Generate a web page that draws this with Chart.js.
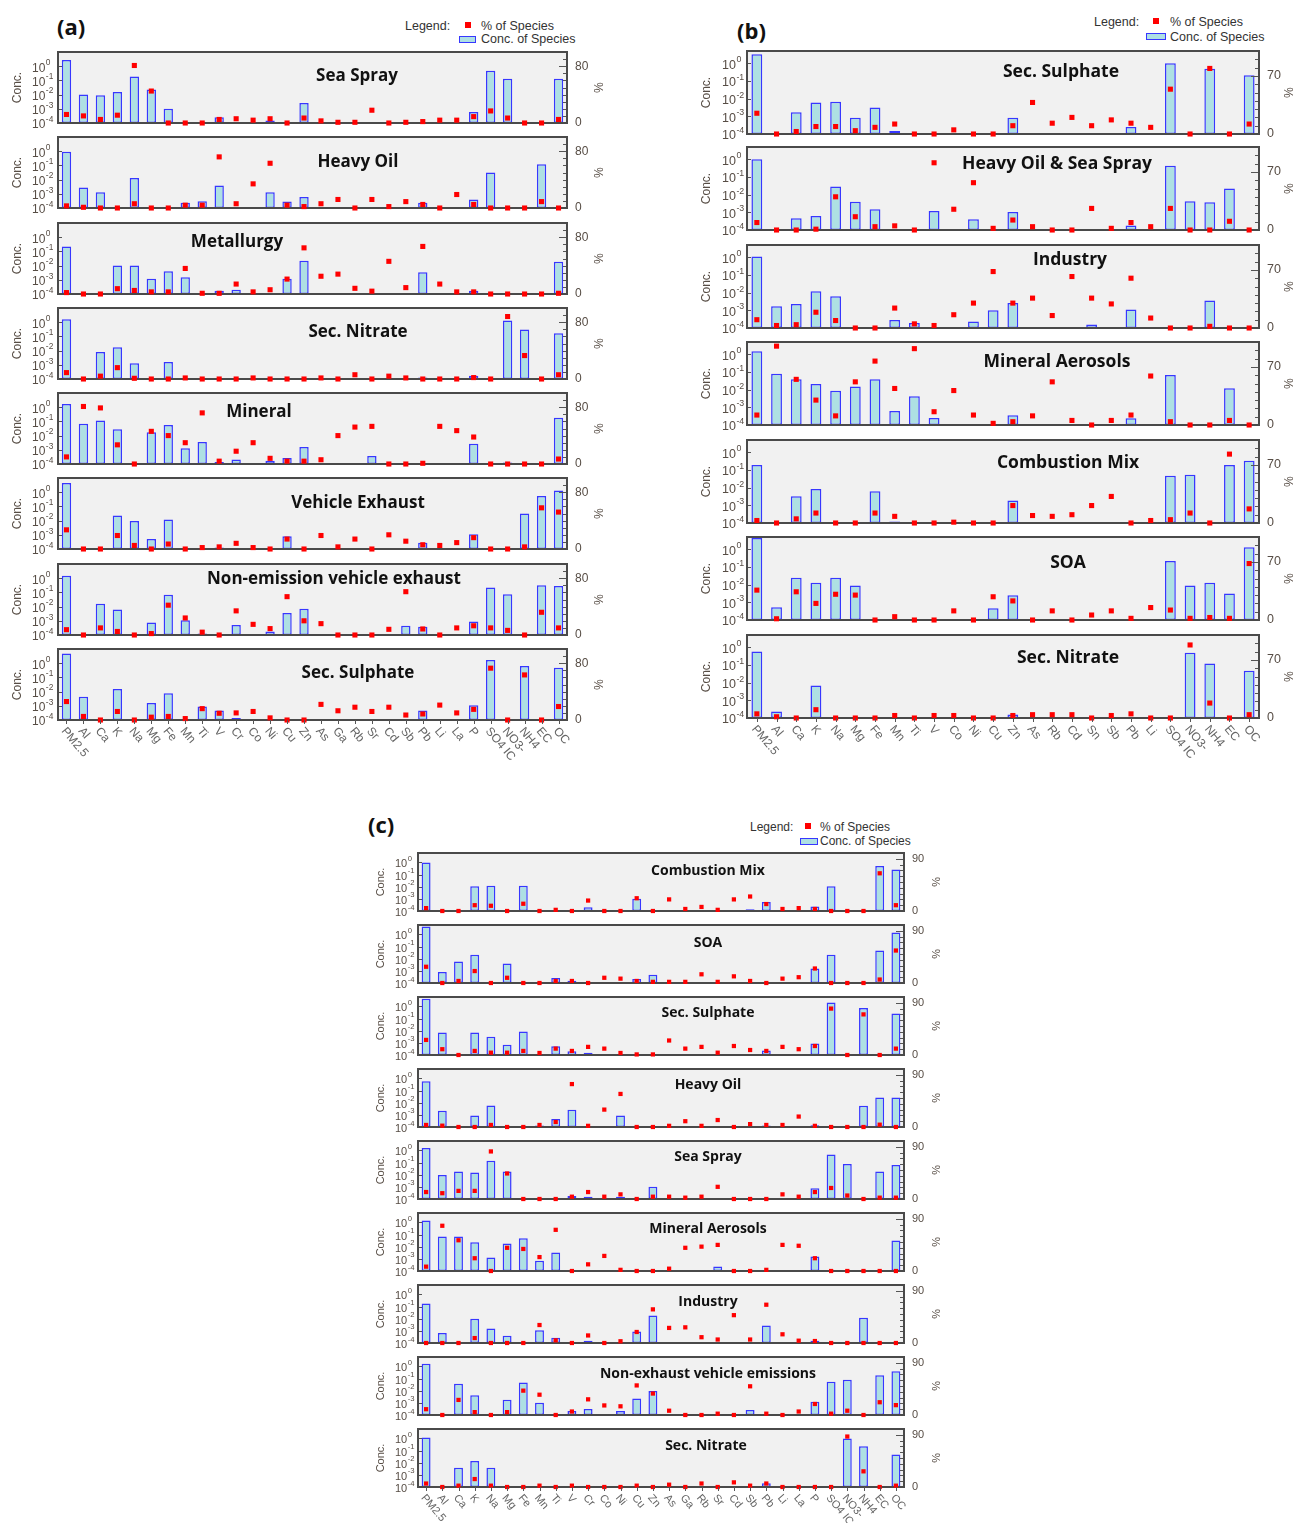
<!DOCTYPE html>
<html>
<head>
<meta charset="utf-8">
<script src="https://cdn.jsdelivr.net/npm/chart.js@4.4.1/dist/chart.umd.min.js"></script>
<style>
  html, body { margin: 0; padding: 0; overflow: hidden; background: #fff; }
  body { width: 1296px; height: 1523px; position: relative; font-family: "Liberation Sans", Arial, sans-serif; }
  canvas { position: absolute; }
  .tag { position: absolute; font-family: "Open Sans", sans-serif; font-weight: bold; font-size: 22px; line-height: 22px; color: #111; }
  .lg { position: absolute; font-size: 12.5px; line-height: 14px; color: #333; white-space: nowrap; }
  .lg-dot { position: absolute; width: 6px; height: 6px; background: #ff0000; }
  .lg-box { position: absolute; box-sizing: border-box; background: #aee0e3; border: 1.5px solid #3737ff; }
</style>
</head>
<body>

<div class="tag" style="left:57px; top:15px;">(a)</div>
<div class="lg" style="left:405px; top:19px;">Legend:</div>
<div class="lg-dot" style="left:465px; top:22px;"></div>
<div class="lg" style="left:481px; top:19px;">% of Species</div>
<div class="lg-box" style="left:459px; top:36px; width:17px; height:7px;"></div>
<div class="lg" style="left:481px; top:32px;">Conc. of Species</div>

<div class="tag" style="left:737px; top:19px;">(b)</div>
<div class="lg" style="left:1094px; top:15px;">Legend:</div>
<div class="lg-dot" style="left:1153px; top:18px;"></div>
<div class="lg" style="left:1170px; top:15px;">% of Species</div>
<div class="lg-box" style="left:1146px; top:33px; width:20px; height:7px;"></div>
<div class="lg" style="left:1170px; top:30px;">Conc. of Species</div>

<div class="tag" style="left:368px; top:813px;">(c)</div>
<div class="lg" style="left:750px; top:820px; font-size:12px;">Legend:</div>
<div class="lg-dot" style="left:805px; top:823px;"></div>
<div class="lg" style="left:820px; top:820px; font-size:12px;">% of Species</div>
<div class="lg-box" style="left:800px; top:838px; width:18px; height:7px;"></div>
<div class="lg" style="left:820px; top:834px; font-size:12px;">Conc. of Species</div>

<script>
// species on the x axis
const speciesA = ['PM2.5', 'Al', 'Ca', 'K', 'Na', 'Mg', 'Fe', 'Mn', 'Ti', 'V', 'Cr', 'Co', 'Ni', 'Cu', 'Zn',
  'As', 'Ga', 'Rb', 'Sr', 'Cd', 'Sb', 'Pb', 'Li', 'La', 'P', 'SO4 IC', 'NO3-', 'NH4', 'EC', 'OC'];
const speciesB = ['PM2.5', 'Al', 'Ca', 'K', 'Na', 'Mg', 'Fe', 'Mn', 'Ti', 'V', 'Co', 'Ni', 'Cu', 'Zn',
  'As', 'Rb', 'Cd', 'Sn', 'Sb', 'Pb', 'Li', 'SO4 IC', 'NO3-', 'NH4', 'EC', 'OC'];
const speciesC = ['PM2.5', 'Al', 'Ca', 'K', 'Na', 'Mg', 'Fe', 'Mn', 'Ti', 'V', 'Cr', 'Co', 'Ni', 'Cu', 'Zn',
  'As', 'Ga', 'Rb', 'Sr', 'Cd', 'Sb', 'Pb', 'Li', 'La', 'P', 'SO4 IC', 'NO3-', 'NH4', 'EC', 'OC'];

// left axis ticks (conc.) and right axis step (%)
const concTicks = [1e-4, 1e-3, 1e-2, 1e-1, 1];
const pctStep = 10;

// ---- panel (a) ----
const aSeaSprayConc = [2.7, 0.01, 0.009, 0.015, 0.19, 0.023, 0.001, null, null, 2.5e-4,
  null, null, 1.5e-4, null, 0.0026, null, null, null, 1.2e-4, null,
  null, null, null, null, 6e-4, 0.48, 0.13, null, null, 0.13];
const aSeaSprayPct = [12, 10, 5, 11, 81, 45, 0, 0, 0, 5,
  6, 4, 6, 0, 7, 3, 1, 1, 18, 0,
  1, 2, 4, 4, 9, 17, 7, 0, 0, 5];

const aHeavyOilConc = [0.9, 0.0028, 0.0013, null, 0.013, null, null, 2.3e-4, 3e-4, 0.0038,
  null, null, 0.0013, 2.9e-4, 6e-4, null, null, null, null, null,
  null, 2.3e-4, null, null, 4e-4, 0.032, null, null, 0.12, null];
const aHeavyOilPct = [3, 1, 0, 0, 6, 0, 0, 4, 4, 72,
  6, 34, 63, 4, 2, 6, 12, 0, 12, 2,
  9, 5, 0, 19, 5, 0, 0, 0, 9, 0];

const aMetallurgyConc = [0.22, null, null, 0.01, 0.01, 0.0012, 0.004, 0.0015, null, 1.7e-4,
  2e-4, null, 1.2e-4, 0.0012, 0.022, null, null, null, null, null,
  null, 0.0034, null, null, 1.7e-4, null, null, null, null, 0.019];
const aMetallurgyPct = [2, 0, 0, 7.5, 5, 3, 3, 36, 1, 1,
  14, 3, 6, 21, 65, 25, 28, 8, 4, 46,
  9, 67, 14, 3, 3, 0, 0, 0, 0, 1];

const aSecNitrateConc = [1.6, null, 0.008, 0.017, 0.0013, null, 0.0016, null, null, null,
  null, null, null, null, null, null, null, null, null, null,
  null, 1.3e-4, null, null, 1.7e-4, null, 1.3, 0.3, null, 0.17];
const aSecNitratePct = [9, 0, 4, 16, 1, 0, 0, 1.5, 0, 0,
  0, 1.5, 0, 0, 0, 1.5, 0, 6, 0, 4,
  1.5, 0, 0, 0, 2, 0, 88, 33, 0, 6];

const aMineralConc = [1.7, 0.069, 0.117, 0.028, null, 0.017, 0.056, 0.0013, 0.0035, 1.4e-4,
  2.1e-4, null, 1.7e-4, 2.6e-4, 0.0016, null, null, null, 3.7e-4, null,
  null, null, null, null, 0.0027, null, 1.3e-4, null, null, 0.18];
const aMineralPct = [10, 81, 79, 27, 0, 46, 40, 30, 72, 4,
  18, 30, 8, 4, 4, 6, 40, 52, 53, 0,
  0, 1, 53, 47, 38, 0, 0, 0, 0, 7];

const aVehicleConc = [4.5, null, null, 0.023, 0.0095, 5e-4, 0.012, null, 1.1e-4, 1.3e-4,
  1.05e-4, null, null, 8e-4, null, null, null, null, null, null,
  null, 2.8e-4, null, null, 0.0011, null, null, 0.032, 0.53, 1.3];
const aVehiclePct = [27, 0, 0, 19, 5, 0, 7, 0, 2, 3,
  8, 2, 0, 14, 0, 19, 3, 14, 0, 20,
  11, 6, 5, 9, 16, 0, 0, 3, 58, 52];

const aNonEmissionConc = [1.5, null, 0.016, 0.0063, null, 7.5e-4, 0.068, 0.0011, 1.3e-4, null,
  5e-4, null, 1.8e-4, 0.0036, 0.0072, null, null, null, null, null,
  4.5e-4, 3.8e-4, null, null, 9e-4, 0.22, 0.074, null, 0.32, 0.28];
const aNonEmissionPct = [7.5, 0, 10, 5, 0, 2, 42, 24, 4, 0,
  34, 15, 9, 54, 20, 16, 0, 0, 0, 8,
  61, 8.5, 0, 10, 13, 10, 6.5, 0, 32, 10];

const aSecSulphateConc = [4.8, 0.0044, null, 0.015, null, 0.0016, 0.0077, null, 9e-4, 4.6e-4,
  1.4e-4, null, null, null, null, null, null, null, null, null,
  null, 4.6e-4, null, null, 0.0011, 1.7, null, 0.63, null, 0.48];
const aSecSulphatePct = [26, 5, 0, 12, 0, 4, 5, 2, 16, 9.5,
  10, 12, 3, 0, 0, 22, 13, 18, 12, 18,
  7, 8.5, 21, 10, 15, 73, 0, 63.5, 0, 19];

// ---- panel (b) ----
const bSecSulphateConc = [3.3, null, 0.0017, 0.006, 0.0068, 8.3e-4, 0.0032, 1.5e-4, null, null,
  null, null, null, 8.3e-4, null, null, null, null, null, 2.5e-4,
  null, 1.0, null, 0.5, null, 0.21];
const bSecSulphatePct = [25, 0, 3, 9, 9, 4, 8, 12, 0, 0,
  5, 0, 0, 10, 38, 13, 20, 10, 17, 13,
  8, 54, 0, 79, 0, 12];

const bHeavyOilSeaConc = [1.0, null, 4.7e-4, 6.3e-4, 0.029, 0.004, 0.0015, null, null, 0.0012,
  null, 4.1e-4, null, 0.00105, null, null, null, 1.1e-4, null, 1.8e-4,
  null, 0.43, 0.0042, 0.0037, 0.022, null];
const bHeavyOilSeaPct = [9, 0, 0, 1, 40, 16, 4, 5, 0, 81,
  25, 57, 2, 12, 4, 0, 0, 26, 2, 9,
  4, 26, 0, 0, 10.5, 0];

const bIndustryConc = [1.1, 0.0017, 0.0023, 0.012, 0.0063, null, null, 2.8e-4, 1.9e-4, null,
  null, 2.3e-4, 0.001, 0.0026, null, null, null, 1.6e-4, null, 0.0011,
  null, null, null, 0.0036, null, null];
const bIndustryPct = [10, 3, 4, 19, 9, 0, 0, 24, 5, 3,
  16, 30, 68, 30, 36, 15, 62, 36, 29, 60,
  12, 0, 0, 2, 0, 0];

const bMineralConc = [1.5, 0.079, 0.039, 0.021, 0.0087, 0.015, 0.039, 6.3e-4, 0.0042, 2.5e-4,
  null, 1.1e-4, null, 3.6e-4, null, null, null, null, null, 2.4e-4,
  null, 0.068, null, null, 0.012, null];
const bMineralPct = [12, 95, 55, 30, 11, 52, 77, 44, 92, 16,
  41.5, 12, 2, 4, 11, 52, 5.5, 0, 5.5, 12,
  59, 4, 0, 0, 5.5, 0];

const bCombustionConc = [0.19, null, 0.0033, 0.0083, null, null, 0.0063, 1.2e-4, null, null,
  null, null, null, 0.0019, null, null, null, null, null, null,
  null, 0.047, 0.054, null, 0.19, 0.33];
const bCombustionPct = [3, 0, 5, 12, 0, 0, 12, 8, 0, 0,
  1, 0, 0, 21, 9, 8, 10, 21, 32, 0,
  3, 4, 12, 0, 83, 17];

const bSOAConc = [4.4, 5.3e-4, 0.025, 0.013, 0.025, 0.009, null, null, null, null,
  null, null, 4.7e-4, 0.0025, null, null, null, null, null, null,
  null, 0.22, 0.009, 0.013, 0.0032, 1.3];
const bSOAPct = [36, 1.5, 34, 20, 31, 30, 0, 4, 0, 0,
  11, 0, 28, 23, 0, 11, 0, 6, 11, 2,
  15, 12, 2, 3, 2, 68];

const bSecNitrateConc = [0.59, 2.3e-4, null, 0.007, null, null, null, null, null, null,
  null, null, null, 1.6e-4, null, null, null, null, null, null,
  null, null, 0.49, 0.12, null, 0.047];
const bSecNitratePct = [5, 1.5, 0, 10, 0, 0, 0, 3, 0, 3,
  3, 0, 0, 3, 4, 4, 4, 0, 3, 5,
  0, 0, 88, 18, 0, 4];

// ---- panel (c) ----
const cCombustionConc = [1.0, null, null, 0.011, 0.012, null, 0.012, null, 1.2e-4, null,
  2e-4, null, null, 0.001, null, null, null, null, null, null,
  1.4e-4, 5.5e-4, null, null, 2.4e-4, 0.011, null, null, 0.5, 0.26];
const cCombustionPct = [5, 0, 0, 10, 9, 0, 12.5, 0, 2, 0,
  18, 0, 0, 22, 0, 20, 3.5, 7, 2, 20,
  25, 12, 3.5, 5, 3.5, 0, 0, 0, 65, 10];

const cSOAConc = [4.5, 8e-4, 0.006, 0.021, null, 0.0041, null, null, 2.6e-4, 1.5e-4,
  null, null, 1.1e-4, 2.1e-4, 4.8e-4, null, null, null, null, null,
  null, null, null, null, 0.0016, 0.021, null, null, 0.048, 1.45];
const cSOAPct = [28, 0, 3.5, 20.6, 0, 9, 0, 0, 3.5, 3.5,
  0, 9, 7.5, 3.5, 2, 2, 2, 15, 2, 11.5,
  3.5, 0, 7.5, 10, 25, 0, 0, 0, 6, 56];

const cSecSulphateConc = [4.4, 0.007, null, 0.007, 0.0032, 7e-4, 0.0085, null, 5.3e-4, 2e-4,
  1.5e-4, null, null, null, null, null, null, null, null, null,
  null, 2.4e-4, null, null, 9e-4, 2.1, null, 0.73, null, 0.26];
const cSecSulphatePct = [26, 10, 0, 7, 4, 4, 7, 3.5, 11, 7,
  14, 11, 3.5, 1, 1, 25, 11, 14, 4, 15.5,
  8.6, 7, 14, 10, 15.5, 80, 0, 70, 0, 11];

const cHeavyOilConc = [0.6, 0.0022, null, 9e-4, 0.006, null, null, 1.3e-4, 4.6e-4, 0.0026,
  null, null, 9e-4, null, null, null, null, null, null, null,
  null, 1.3e-4, null, null, 1.4e-4, null, null, 0.0056, 0.027, 0.027];
const cHeavyOilPct = [3.5, 2.3, 0, 0, 3.5, 0, 0, 3.5, 8.6, 74,
  2, 30, 57, 0, 0, 2, 10, 2, 12, 0,
  5, 3.5, 3.5, 18, 2, 0, 0, 0, 4, 0];

const cSeaSprayConc = [1.6, 0.0094, 0.018, 0.015, 0.14, 0.018, null, null, null, 1.8e-4,
  1.5e-4, null, 1.5e-4, null, 0.001, null, null, null, 1.2e-4, null,
  null, null, null, null, 7.6e-4, 0.47, 0.076, null, 0.018, 0.063];
const cSeaSprayPct = [12, 10, 14, 14, 82, 44, 0, 0, 0, 4,
  12, 4, 8, 0, 4, 4, 2.3, 4, 21, 0,
  0, 0, 8, 4, 12, 19, 6, 0, 2.3, 2.3];

const cMineralConc = [1.45, 0.07, 0.07, 0.023, 0.0013, 0.018, 0.051, 7e-4, 0.0034, null,
  1.05e-4, null, null, null, null, null, null, null, 2.4e-4, null,
  null, null, null, null, 0.0016, null, null, null, null, 0.033];
const cMineralPct = [7.5, 78, 53, 22, 0, 40, 38, 24, 71, 0,
  11.5, 26, 2, 0, 0, 4, 40, 42, 45, 0,
  0, 2, 45, 43.5, 22, 0, 0, 0, 0, 0];

const cIndustryConc = [0.18, 6.6e-4, null, 0.01, 0.0016, 4e-4, null, 0.0011, 2.7e-4, null,
  1.5e-4, null, null, 9e-4, 0.018, null, null, null, null, null,
  null, 0.0028, null, null, 1.5e-4, null, null, 0.012, null, null];
const cIndustryPct = [0, 0, 0, 8.5, 0, 0, 0, 31, 4.6, 0,
  13, 0, 3, 19, 58, 26, 27, 10, 6, 48,
  6, 66, 15, 4, 3.4, 0, 0, 0, 0, 0];

const cNonExhaustConc = [1.7, null, 0.038, 0.0042, null, 0.0018, 0.048, 0.001, null, 2.1e-4,
  3.1e-4, null, 2.1e-4, 0.0023, 0.0093, null, null, null, null, null,
  2.6e-4, 1.2e-4, null, null, 0.00125, 0.055, 0.08, null, 0.19, 0.41];
const cNonExhaustPct = [10, 0, 26, 5, 0, 5, 42, 35, 0, 6,
  27, 16.5, 15, 51, 37, 7.4, 0, 0, 2.3, 0,
  49.5, 2.3, 0, 6, 19, 2.3, 7.4, 0, 22, 17];

const cSecNitrateConc = [1.2, null, 0.0039, 0.014, 0.0039, null, null, null, null, null,
  null, null, null, null, null, null, null, null, null, null,
  null, 2e-4, null, null, null, null, 1.0, 0.23, null, 0.048];
const cSecNitratePct = [6, 0, 2.3, 13.7, 2.3, 0, 0, 2.3, 0, 2.3,
  0, 0, 0, 2.3, 0, 4, 0, 6, 0, 8,
  2.3, 6, 0, 0, 0, 0, 87, 27, 0, 2.3];

// ---------------------------------------------------------------
const LW = 57;   // room for the conc. axis
const RW = 45;   // room for the % axis
const PAD = 10;
const TXT = '#574d45';
const FONT = '"Liberation Sans", Arial, sans-serif';

const panels = [
  {
    species: speciesA, left: 58, right: 567, frameH: 71, concMax: 10, pctLabel: 80,
    titleSize: 17, tickSize: 12, xSize: 12, pointR: 3.6, concPad: 9, pctPad: 7, labelOff: 26, axisTitle: 12,
    plots: [
      { name: 'Sea Spray', conc: aSeaSprayConc, pct: aSeaSprayPct, top: 52, tx: 357, ty: 24 },
      { name: 'Heavy Oil', conc: aHeavyOilConc, pct: aHeavyOilPct, top: 137, tx: 358, ty: 25 },
      { name: 'Metallurgy', conc: aMetallurgyConc, pct: aMetallurgyPct, top: 223, tx: 237, ty: 19 },
      { name: 'Sec. Nitrate', conc: aSecNitrateConc, pct: aSecNitratePct, top: 308, tx: 358, ty: 24 },
      { name: 'Mineral', conc: aMineralConc, pct: aMineralPct, top: 393, tx: 259, ty: 19 },
      { name: 'Vehicle Exhaust', conc: aVehicleConc, pct: aVehiclePct, top: 478, tx: 358, ty: 25 },
      { name: 'Non-emission vehicle exhaust', conc: aNonEmissionConc, pct: aNonEmissionPct, top: 564, tx: 334, ty: 15 },
      { name: 'Sec. Sulphate', conc: aSecSulphateConc, pct: aSecSulphatePct, top: 649, tx: 358, ty: 24 }
    ]
  },
  {
    species: speciesB, left: 747, right: 1259, frameH: 83, concMax: 5, pctLabel: 70,
    titleSize: 17.5, tickSize: 12.5, xSize: 12, pointR: 3.6, concPad: 9, pctPad: 9, labelOff: 25, axisTitle: 12,
    plots: [
      { name: 'Sec. Sulphate', conc: bSecSulphateConc, pct: bSecSulphatePct, top: 51, tx: 1061, ty: 21 },
      { name: 'Heavy Oil & Sea Spray', conc: bHeavyOilSeaConc, pct: bHeavyOilSeaPct, top: 147, tx: 1057, ty: 17 },
      { name: 'Industry', conc: bIndustryConc, pct: bIndustryPct, top: 245, tx: 1070, ty: 15 },
      { name: 'Mineral Aerosols', conc: bMineralConc, pct: bMineralPct, top: 342, tx: 1057, ty: 20 },
      { name: 'Combustion Mix', conc: bCombustionConc, pct: bCombustionPct, top: 440, tx: 1068, ty: 23 },
      { name: 'SOA', conc: bSOAConc, pct: bSOAPct, top: 537, tx: 1068, ty: 26 },
      { name: 'Sec. Nitrate', conc: bSecNitrateConc, pct: bSecNitratePct, top: 635, tx: 1068, ty: 23 }
    ]
  },
  {
    species: speciesC, left: 418, right: 904, frameH: 58, concMax: 6, pctLabel: 90,
    titleSize: 14, tickSize: 11, xSize: 11, pointR: 3, concPad: 13, pctPad: 7, labelOff: 23, axisTitle: 11,
    plots: [
      { name: 'Combustion Mix', conc: cCombustionConc, pct: cCombustionPct, top: 853, tx: 708, ty: 18 },
      { name: 'SOA', conc: cSOAConc, pct: cSOAPct, top: 925, tx: 708, ty: 18 },
      { name: 'Sec. Sulphate', conc: cSecSulphateConc, pct: cSecSulphatePct, top: 997, tx: 708, ty: 16 },
      { name: 'Heavy Oil', conc: cHeavyOilConc, pct: cHeavyOilPct, top: 1069, tx: 708, ty: 16 },
      { name: 'Sea Spray', conc: cSeaSprayConc, pct: cSeaSprayPct, top: 1141, tx: 708, ty: 16 },
      { name: 'Mineral Aerosols', conc: cMineralConc, pct: cMineralPct, top: 1213, tx: 708, ty: 16 },
      { name: 'Industry', conc: cIndustryConc, pct: cIndustryPct, top: 1285, tx: 708, ty: 17 },
      { name: 'Non-exhaust vehicle emissions', conc: cNonExhaustConc, pct: cNonExhaustPct, top: 1357, tx: 708, ty: 17 },
      { name: 'Sec. Nitrate', conc: cSecNitrateConc, pct: cSecNitratePct, top: 1429, tx: 706, ty: 17 }
    ]
  }
];

// background, frame, tick marks and labels, title and the slanted species labels
const framePlugin = {
  id: 'frame',
  beforeDatasetsDraw(chart) {
    const { ctx, chartArea: a } = chart;
    ctx.save();
    ctx.fillStyle = '#f1f1f1';
    ctx.fillRect(a.left, a.top, a.right - a.left, a.bottom - a.top);
    ctx.restore();
  },
  afterDatasetDraw(chart, args, o) {
    if (args.meta.type !== 'bar') return;
    const { ctx, chartArea: a, scales } = chart;
    ctx.save();
    ctx.strokeStyle = '#555';
    ctx.lineWidth = 1;
    ctx.beginPath();
    concTicks.forEach(v => {
      const y = Math.round(scales.y.getPixelForValue(v)) + 0.5;
      ctx.moveTo(a.left, y);
      ctx.lineTo(a.left + 4, y);
    });
    for (let v = 0; v <= 100; v += pctStep) {
      const y = Math.round(scales.y1.getPixelForValue(v)) + 0.5;
      const len = v === o.pctLabel ? 8 : 4;
      ctx.moveTo(a.right - len, y);
      ctx.lineTo(a.right, y);
    }
    ctx.stroke();
    ctx.lineWidth = 2;
    ctx.strokeStyle = '#4a4a4a';
    ctx.strokeRect(a.left, a.top, a.right - a.left, a.bottom - a.top);
    ctx.restore();
  },
  afterDraw(chart, args, o) {
    const { ctx, chartArea: a, scales } = chart;
    ctx.save();

    // conc. tick labels: "10" with a raised exponent
    ctx.fillStyle = TXT;
    ctx.textAlign = 'left';
    ctx.textBaseline = 'middle';
    concTicks.forEach(v => {
      const y = scales.y.getPixelForValue(v);
      const x0 = a.left - o.labelOff;
      ctx.font = o.tickSize + 'px ' + FONT;
      ctx.fillText('10', x0, y + 2);
      const w = ctx.measureText('10').width;
      ctx.font = (o.tickSize * 0.7).toFixed(1) + 'px ' + FONT;
      ctx.fillText(String(Math.round(Math.log10(v))), x0 + w + 0.5, y - 3.5);
    });

    // % tick labels
    ctx.font = o.tickSize + 'px ' + FONT;
    [0, o.pctLabel].forEach(v => {
      ctx.fillText(String(v), a.right + 8, scales.y1.getPixelForValue(v));
    });

    // plot name
    ctx.fillStyle = '#111';
    ctx.font = 'bold ' + o.titleSize + 'px "Open Sans", sans-serif';
    ctx.textAlign = 'center';
    ctx.fillText(o.title, o.tx, a.top + o.ty);

    if (o.showLabels) {
      ctx.strokeStyle = '#555';
      ctx.lineWidth = 1;
      ctx.fillStyle = '#666';
      ctx.font = o.xSize + 'px ' + FONT;
      ctx.textAlign = 'left';
      chart.data.labels.forEach((lab, i) => {
        const x = scales.x.getPixelForValue(i);
        ctx.beginPath();
        ctx.moveTo(Math.round(x) + 0.5, a.bottom);
        ctx.lineTo(Math.round(x) + 0.5, a.bottom + 4);
        ctx.stroke();
        ctx.save();
        ctx.translate(x - 3, a.bottom + 9);
        ctx.rotate(50 * Math.PI / 180);
        ctx.fillText(lab, 0, 0);
        ctx.restore();
      });
    }
    ctx.restore();
  }
};

Chart.defaults.font.family = FONT;

function makeChart(panel, plot, isLast) {
  const frameW = panel.right - panel.left;
  const padBottom = isLast ? 52 : PAD;
  const canvas = document.createElement('canvas');
  canvas.width = LW + frameW + RW;
  canvas.height = PAD + panel.frameH + padBottom;
  canvas.style.left = (panel.left - LW) + 'px';
  canvas.style.top = (plot.top - PAD) + 'px';
  document.body.appendChild(canvas);

  new Chart(canvas, {
    type: 'bar',
    data: {
      labels: panel.species,
      datasets: [
        {
          type: 'line',
          label: '% of Species',
          data: plot.pct,
          yAxisID: 'y1',
          showLine: false,
          pointStyle: 'rect',
          pointRadius: panel.pointR,
          pointBackgroundColor: '#ff0000',
          pointBorderColor: '#ff0000',
          pointBorderWidth: 0,
          clip: false,
          order: 0
        },
        {
          type: 'bar',
          label: 'Conc. of Species',
          data: plot.conc,
          yAxisID: 'y',
          backgroundColor: '#aee0e3',
          borderColor: '#3737ff',
          borderWidth: 1.5,
          borderSkipped: false,
          barPercentage: 0.55,
          categoryPercentage: 1,
          order: 1
        }
      ]
    },
    options: {
      responsive: false,
      animation: false,
      events: [],
      layout: { padding: { top: PAD, bottom: padBottom, left: 0, right: 0 } },
      plugins: {
        legend: { display: false },
        tooltip: { enabled: false },
        frame: {
          title: plot.name, tx: plot.tx - (panel.left - LW), ty: plot.ty,
          titleSize: panel.titleSize, pctLabel: panel.pctLabel, tickSize: panel.tickSize,
          labelOff: panel.labelOff, showLabels: isLast, xSize: panel.xSize
        }
      },
      scales: {
        x: { display: false, offset: true },
        y: {
          type: 'logarithmic',
          position: 'left',
          min: 1e-4,
          max: panel.concMax,
          afterFit: s => { s.width = LW; },
          grid: { display: false, drawTicks: false },
          border: { display: false },
          ticks: { display: false },
          title: { display: true, text: 'Conc.', color: TXT, font: { size: panel.axisTitle }, padding: { top: panel.concPad, bottom: 0 } }
        },
        y1: {
          type: 'linear',
          position: 'right',
          min: 0,
          max: 100,
          afterFit: s => { s.width = RW; },
          grid: { display: false, drawTicks: false },
          border: { display: false },
          ticks: { display: false, stepSize: pctStep },
          title: { display: true, text: '%', color: TXT, font: { size: panel.axisTitle }, padding: { top: panel.pctPad, bottom: 0 } }
        }
      }
    },
    plugins: [framePlugin]
  });
}

panels.forEach(panel => {
  panel.plots.forEach((plot, i) => makeChart(panel, plot, i === panel.plots.length - 1));
});
</script>
</body>
</html>
